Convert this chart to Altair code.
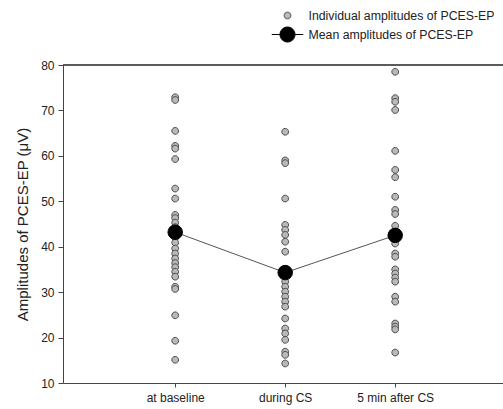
import altair as alt
import pandas as pd

categories = ["at baseline", "during CS", "5 min after CS"]
positions = [1, 2, 3]

baseline_vals = [72.9, 72.3, 65.5, 62.2, 61.6, 59.3, 52.8, 50.6, 47.0, 46.3, 45.3, 44.3,
                 42.0, 40.9, 39.6, 38.5, 37.4, 36.4, 35.5, 34.5, 33.4, 31.2, 30.7, 24.9,
                 19.3, 15.1]
during_vals = [65.3, 59.0, 58.4, 50.6, 44.8, 43.7, 42.6, 41.1, 38.9, 35.0, 33.5, 32.3,
               31.2, 30.1, 29.0, 27.9, 26.8, 24.2, 22.0, 20.9, 19.5, 16.9, 16.2, 14.3]
after_vals = [78.5, 72.7, 71.9, 70.1, 61.1, 56.9, 55.3, 51.0, 48.1, 47.2, 44.6, 43.3,
              40.7, 38.5, 37.8, 35.0, 34.1, 33.2, 32.3, 29.0, 27.9, 23.1, 22.4, 21.8,
              16.7]
mean_vals = [43.2, 34.3, 42.5]

series_names = ["Individual amplitudes of PCES-EP", "Mean amplitudes of PCES-EP"]

rows = []
for p, vals in zip(positions, [baseline_vals, during_vals, after_vals]):
    for v in vals:
        rows.append({"pos": p, "value": v, "series": series_names[0]})
indiv = pd.DataFrame(rows)
means = pd.DataFrame({"pos": positions, "value": mean_vals, "cat": categories})

W, H = 440, 318
FONT = "Liberation Sans"

label_expr = " : ".join(
    f"datum.value == {p} ? '{c}'" for p, c in zip(positions[:-1], categories[:-1])
) + f" : '{categories[-1]}'"

xenc = alt.X("pos:Q", scale=alt.Scale(domain=[-0.02, 3.98], nice=False, zero=False),
             axis=alt.Axis(values=positions, labelExpr=label_expr, title=None,
                           tickSize=4, labelPadding=5))
yenc = alt.Y("value:Q", scale=alt.Scale(domain=[10, 80], nice=False, zero=False),
             axis=alt.Axis(values=list(range(10, 81, 10)), title="Amplitudes of PCES-EP (μV)",
                           tickSize=5, labelPadding=4, titlePadding=10))

small_circle = "M-0.45,0A0.45,0.45,0,1,1,0.45,0A0.45,0.45,0,1,1,-0.45,0Z"
mean_symbol = "M-2.1,0L-1,0M-1,0A1,1,0,1,1,1,0A1,1,0,1,1,-1,0ZM1,0L2.1,0"

leg = alt.Legend(title=None, orient="none", legendX=216.5, legendY=-57.5, padding=0,
                 symbolSize=225, symbolStrokeWidth=1, labelOffset=13, rowPadding=2,
                 labelFontSize=12.3, labelFont=FONT, labelColor="#222", symbolOpacity=1,
                 labelLimit=0)

points = alt.Chart(indiv).mark_point(filled=True, opacity=1, strokeWidth=1, size=225).encode(
    color=alt.Color("series:N", scale=alt.Scale(domain=series_names, range=["#b9b9b9", "#000000"]),
                    legend=leg),
    stroke=alt.Stroke("series:N", scale=alt.Scale(domain=series_names, range=["#4a4a4a", "#000000"]),
                      legend=leg),
    shape=alt.Shape("series:N", scale=alt.Scale(domain=series_names, range=[small_circle, mean_symbol]),
                    legend=leg),
)
line = alt.Chart(means).mark_line(color="#555555", strokeWidth=1)
mean_pts = alt.Chart(means).mark_point(filled=True, opacity=1, color="#000000", size=210,
                                       stroke="#000000", strokeWidth=1)
top_rule = alt.Chart(means).mark_rule(color="#444444", strokeWidth=1).encode(
    y=alt.datum(80), x=alt.value(0), x2=alt.value(W)
)

chart = alt.layer(points, line, mean_pts, top_rule).encode(x=xenc, y=yenc).properties(
    width=W, height=H,
    background="white",
    autosize=alt.AutoSizeParams(type="none"),
    padding={"left": 63, "top": 65, "right": 0, "bottom": 26},
).configure_view(stroke=None).configure_axis(
    grid=False, domainColor="#444444", tickColor="#444444", labelFont=FONT, titleFont=FONT,
    labelFontSize=12, labelColor="#222", titleFontSize=15, titleFontWeight="normal",
    titleColor="#222",
)

chart.save("out.html", embed_options={"renderer": "svg", "actions": False})
